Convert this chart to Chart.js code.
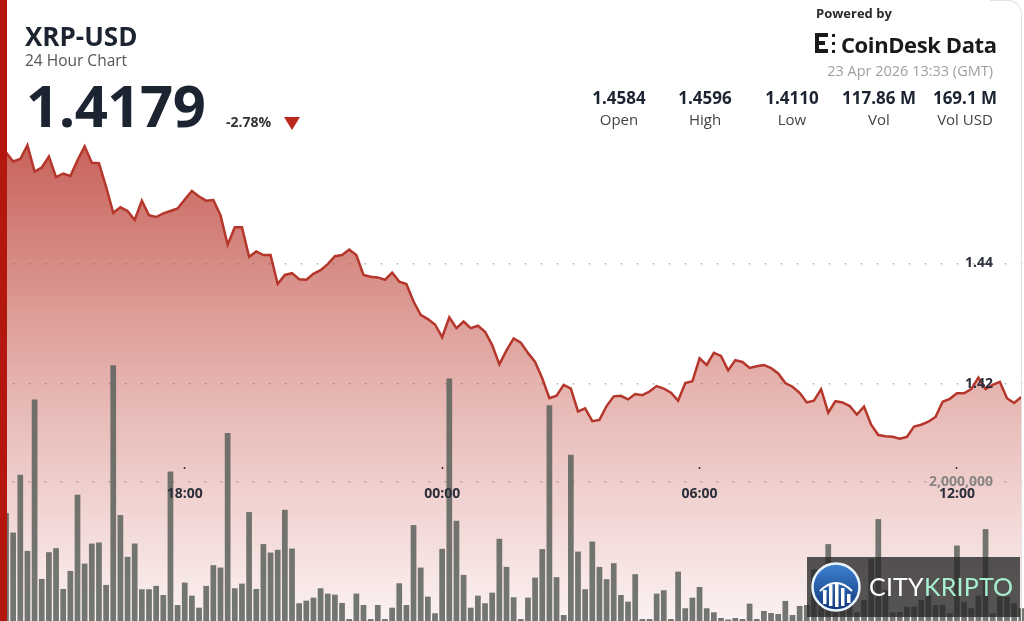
<!DOCTYPE html>
<html><head><meta charset="utf-8">
<script src="https://cdn.jsdelivr.net/npm/chart.js@4.4.1/dist/chart.umd.min.js"></script>
<style>
html,body{margin:0;padding:0;background:#fff;}
#wrap{position:relative;width:1024px;height:621px;overflow:hidden;font-family:'Open Sans',sans-serif;background:#fff;}
#c{position:absolute;left:0;top:0;}
.t{position:absolute;line-height:1;white-space:nowrap;}
.col{position:absolute;width:100px;text-align:center;line-height:1;white-space:nowrap;}
</style></head><body>
<div id="wrap">
<canvas id="c" width="1024" height="621"></canvas>
<div style="position:absolute;left:0;top:0;width:7px;height:621px;background:#b3170e;"></div>
<div style="position:absolute;left:990px;top:0;width:31px;height:640px;border-top:1px solid #e2e2e2;border-right:1px solid #e2e2e2;border-top-right-radius:14px;"></div>

<div class="t" style="left:25px;top:23px;font-size:26px;font-weight:700;color:#1c2331;">XRP-USD</div>
<div class="t" style="left:25px;top:53px;font-size:15.5px;color:#555;">24 Hour Chart</div>
<div class="t" style="left:26px;top:76px;font-size:58px;font-weight:700;color:#1c2331;letter-spacing:-0.5px;">1.4179</div>
<div class="t" style="left:226px;top:115px;font-size:14px;font-weight:700;color:#333;">-2.78%</div>
<div style="position:absolute;left:284px;top:117px;width:0;height:0;border-left:8px solid transparent;border-right:8px solid transparent;border-top:13px solid #b8281c;"></div>

<div class="t" style="left:816px;top:7px;font-size:13px;font-weight:700;color:#2a2a2a;">Powered by</div>
<div style="position:absolute;left:815px;top:33px;width:4px;height:20px;background:#1a1a1a;"></div>
<div style="position:absolute;left:815px;top:33px;width:13px;height:4px;background:#1a1a1a;"></div>
<div style="position:absolute;left:815px;top:41px;width:10px;height:4px;background:#1a1a1a;"></div>
<div style="position:absolute;left:815px;top:49px;width:13px;height:4px;background:#1a1a1a;"></div>
<div style="position:absolute;left:832px;top:34px;width:3px;height:3px;background:#1a1a1a;"></div>
<div style="position:absolute;left:832px;top:42px;width:3px;height:3px;background:#1a1a1a;"></div>
<div style="position:absolute;left:832px;top:50px;width:3px;height:3px;background:#1a1a1a;"></div>
<div class="t" style="left:841px;top:33px;font-size:22px;font-weight:700;color:#1a1a1a;letter-spacing:-0.4px;">CoinDesk Data</div>
<div class="t" style="right:31px;top:64px;font-size:14.5px;color:#a0a0a0;">23 Apr 2026 13:33 (GMT)</div>

<div class="col" style="left:569px;top:89px;font-size:17px;font-weight:700;color:#1c2331;">1.4584</div>
<div class="col" style="left:655px;top:89px;font-size:17px;font-weight:700;color:#1c2331;">1.4596</div>
<div class="col" style="left:742px;top:89px;font-size:17px;font-weight:700;color:#1c2331;">1.4110</div>
<div class="col" style="left:829px;top:89px;font-size:17px;font-weight:700;color:#1c2331;">117.86 M</div>
<div class="col" style="left:915px;top:89px;font-size:17px;font-weight:700;color:#1c2331;">169.1 M</div>
<div class="col" style="left:569px;top:112px;font-size:15px;color:#444;">Open</div>
<div class="col" style="left:655px;top:112px;font-size:15px;color:#444;">High</div>
<div class="col" style="left:742px;top:112px;font-size:15px;color:#444;">Low</div>
<div class="col" style="left:829px;top:112px;font-size:15px;color:#444;">Vol</div>
<div class="col" style="left:915px;top:112px;font-size:15px;color:#444;">Vol USD</div>

<div style="position:absolute;left:807px;top:557px;width:213px;height:60px;background:rgba(38,38,38,0.78);"></div>
<svg style="position:absolute;left:810px;top:561px;" width="52" height="52" viewBox="0 0 52 52">
<defs><linearGradient id="lg" x1="0" y1="0" x2="0" y2="1"><stop offset="0" stop-color="#3f82d2"/><stop offset="1" stop-color="#113a7c"/></linearGradient></defs>
<circle cx="26" cy="26" r="23.5" fill="url(#lg)" stroke="#eaf4ff" stroke-width="2.5"/>
<path d="M10 30 Q26 14 42 30" fill="none" stroke="#fff" stroke-width="2"/>
<rect x="13" y="29" width="3.5" height="14" fill="#fff"/>
<rect x="19" y="24" width="3.5" height="21" fill="#fff"/>
<rect x="25" y="22" width="3.5" height="24" fill="#fff"/>
<rect x="31" y="27" width="3.5" height="18" fill="#fff"/>
<rect x="37" y="33" width="3.5" height="9" fill="#fff"/>
</svg>
<div class="t" style="left:869px;top:574px;font-size:25px;font-family:Lato,sans-serif;color:#fff;letter-spacing:0.2px;">CITY<span style="color:#a6efd2;">KRIPTO</span></div>
</div>

<script>
const priceValues = [
1.4584,1.4569,1.4573,1.4596,1.4552,1.4559,1.4577,1.4543,1.4549,1.4545,
1.4571,1.4594,1.4567,1.4566,1.4527,1.4484,1.4493,1.4487,1.4472,1.4504,
1.4480,1.4477,1.4483,1.4487,1.4491,1.4506,1.4520,1.4511,1.4504,1.4505,
1.4480,1.4431,1.4460,1.4460,1.4411,1.4420,1.4414,1.4414,1.4366,1.4381,
1.4384,1.4374,1.4373,1.4383,1.4389,1.4399,1.4412,1.4414,1.4423,1.4414,
1.4381,1.4378,1.4377,1.4373,1.4385,1.4370,1.4366,1.4337,1.4315,1.4308,
1.4299,1.4278,1.4311,1.4293,1.4304,1.4293,1.4297,1.4287,1.4265,1.4233,
1.4256,1.4276,1.4269,1.4252,1.4237,1.4210,1.4177,1.4181,1.4199,1.4193,
1.4155,1.4160,1.4139,1.4141,1.4164,1.4180,1.4181,1.4175,1.4184,1.4182,
1.4188,1.4197,1.4193,1.4186,1.4173,1.4202,1.4205,1.4243,1.4232,1.4252,
1.4247,1.4223,1.4240,1.4237,1.4227,1.4230,1.4232,1.4227,1.4218,1.4202,
1.4196,1.4186,1.4170,1.4173,1.4192,1.4153,1.4172,1.4170,1.4164,1.4150,
1.4163,1.4133,1.4116,1.4114,1.4113,1.4110,1.4113,1.4130,1.4133,1.4138,
1.4146,1.4171,1.4176,1.4185,1.4185,1.4192,1.4211,1.4192,1.4199,1.4204,
1.4177,1.4169,1.4179];

const volumeValues = [
1550000,1270000,2100000,1007000,3180000,604000,988000,1046000,460000,719000,
1813000,824000,1112000,1127000,518000,3673000,1521000,921000,1112000,456000,
456000,504000,374000,2148000,230000,551000,364000,191000,504000,801000,
767000,2701000,470000,537000,1564000,460000,1104000,983000,1022000,1597000,
1040000,255000,292000,335000,470000,393000,378000,259000,29000,393000,
230000,29000,230000,29000,191000,542000,230000,1377000,767000,350000,
111000,1036000,3482000,1439000,662000,191000,364000,255000,407000,1180000,
777000,341000,29000,335000,623000,1032000,3098000,629000,86000,2388000,
997000,456000,1141000,777000,600000,830000,374000,278000,672000,29000,
29000,393000,442000,29000,709000,183000,335000,489000,183000,125000,
43000,22000,43000,29000,249000,29000,144000,115000,101000,288000,
86000,216000,230000,741000,374000,1104000,302000,187000,230000,125000,
302000,892000,1463000,446000,125000,129000,206000,206000,302000,374000,
230000,230000,111000,1083000,278000,183000,364000,1319000,111000,350000,
350000,255000,183000];

const timeTickSlots = [25, 61, 97, 133];
const timeTickLabels = ['18:00', '00:00', '06:00', '12:00'];
const priceTicks = [1.42, 1.44];
const volumeTicks = [2000000];

const pricePoints = priceValues.map((v, i) => ({x: i, y: v}));
const volumePoints = volumeValues.map((v, i) => ({x: i, y: v}));

const dotGrid = {color: 'rgba(120,110,110,0.55)', lineWidth: 1.6, drawTicks: false};
const dotBorder = {display: false, dash: [1.6, 14.4], dashOffset: 3.3};
const tickFont = {family: "'Open Sans', sans-serif", size: 14, weight: '700'};

new Chart(document.getElementById('c'), {
  type: 'bar',
  data: {
    datasets: [
      {
        type: 'line', label: 'Price', data: pricePoints, yAxisID: 'y', xAxisID: 'x',
        borderColor: '#b5362b', borderWidth: 2.5, pointRadius: 0, tension: 0,
        fill: 'start', order: 0,
        backgroundColor: (ctx) => {
          const ch = ctx.chart; const area = ch.chartArea;
          if (!area) return 'rgba(200,80,70,0.4)';
          const g = ch.ctx.createLinearGradient(0, 140, 0, area.bottom);
          g.addColorStop(0, 'rgba(183,52,42,0.78)');
          g.addColorStop(0.5, 'rgba(190,62,52,0.40)');
          g.addColorStop(1, 'rgba(195,70,60,0.07)');
          return g;
        }
      },
      {
        type: 'bar', label: 'Volume', data: volumePoints, yAxisID: 'vol', xAxisID: 'x',
        backgroundColor: 'rgba(92,98,92,0.86)', borderWidth: 0,
        barPercentage: 1, categoryPercentage: 0.8, order: 1
      }
    ]
  },
  options: {
    responsive: false, animation: false, devicePixelRatio: 1,
    layout: {padding: 0},
    plugins: {legend: {display: false}, tooltip: {enabled: false}, filler: {drawTime: 'beforeDatasetsDraw'}},
    scales: {
      x: {
        type: 'linear', min: -0.839, max: 142.378, offset: false,
        position: {vol: 2211000},
        afterFit: (s) => { s.height = 0; },
        afterBuildTicks: (s) => { s.ticks = timeTickSlots.map(v => ({value: v})); },
        grid: {drawOnChartArea: false, drawTicks: true, tickLength: 2, tickColor: '#222', tickWidth: 1.5, offset: false},
        border: {display: false},
        ticks: {
          z: 1, autoSkip: false, maxRotation: 0, padding: 17, color: '#2b303b', font: tickFont,
          callback: (v) => { const i = timeTickSlots.indexOf(v); return i >= 0 ? timeTickLabels[i] : ''; }
        }
      },
      y: {
        type: 'linear', position: 'right', min: 1.380811, max: 1.483626,
        afterFit: (s) => { s.width = 0; },
        afterBuildTicks: (s) => { s.ticks = priceTicks.map(v => ({value: v})); },
        grid: Object.assign({}, dotGrid),
        border: Object.assign({}, dotBorder),
        ticks: {z: 1, mirror: true, padding: -31, color: '#2b303b', font: tickFont, callback: (v) => v.toFixed(2)}
      },
      vol: {
        type: 'linear', position: 'right', min: 0, max: 8916000,
        afterFit: (s) => { s.width = 0; },
        afterBuildTicks: (s) => { s.ticks = volumeTicks.map(v => ({value: v})); },
        grid: Object.assign({}, dotGrid),
        border: Object.assign({}, dotBorder),
        ticks: {z: 1, mirror: true, padding: -31, color: 'rgba(120,120,120,0.85)', font: tickFont,
          callback: (v) => v.toLocaleString('en-US')}
      }
    }
  }
});
</script>
</body></html>
